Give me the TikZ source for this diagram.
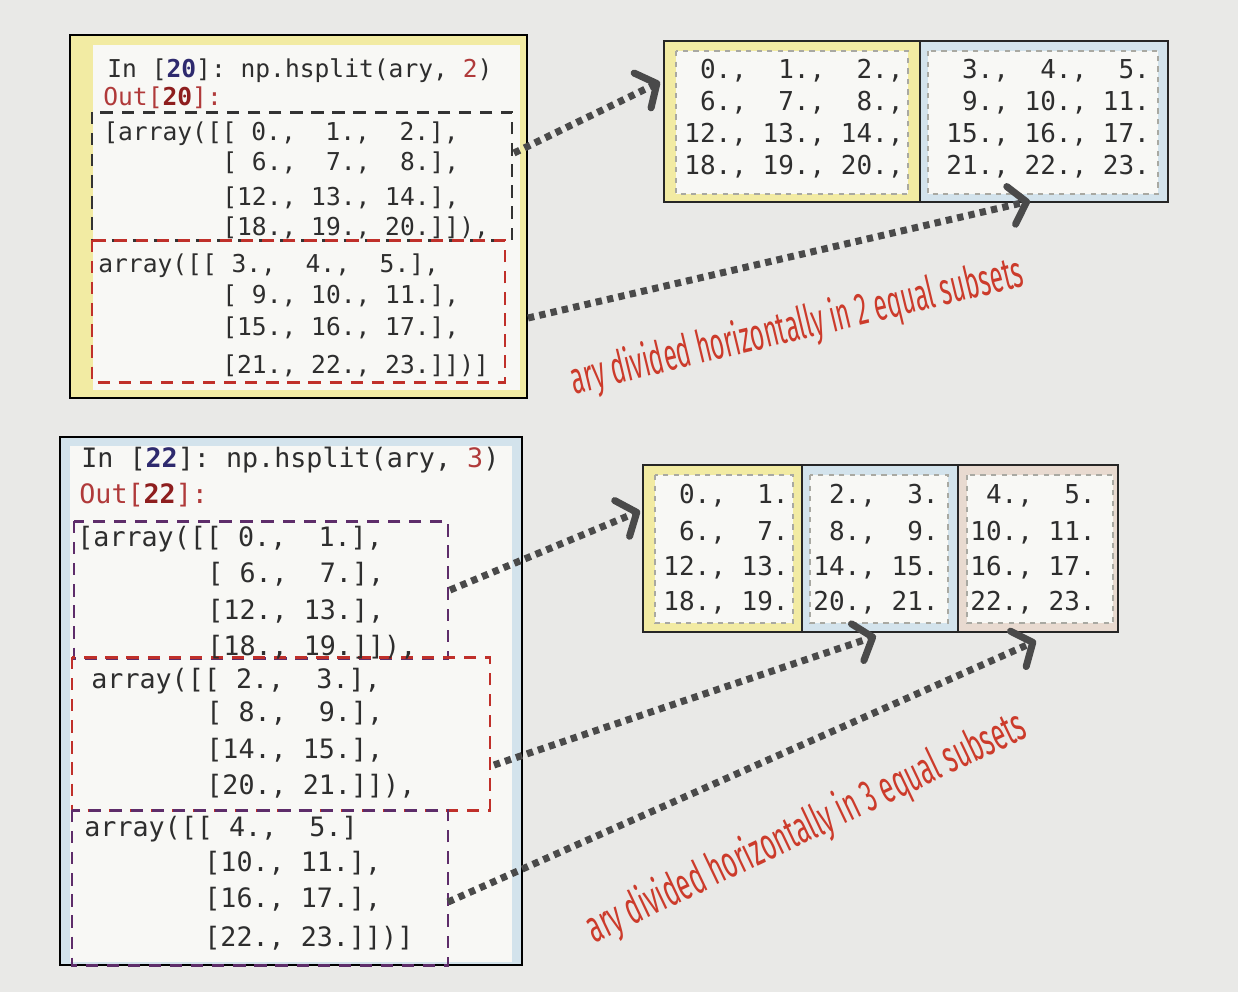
\documentclass[tikz,border=0pt]{standalone}
\usepackage{fontspec}
\usetikzlibrary{arrows.meta}
\newfontfamily\codefont{DejaVu Sans Mono}
\newfontfamily\labfont{Fira Sans}
\definecolor{paper}{HTML}{E9E9E7}
\definecolor{yellowp}{HTML}{F2EBA3}
\definecolor{bluep}{HTML}{D3E3EC}
\definecolor{pinkp}{HTML}{E8DAD0}
\definecolor{innerw}{HTML}{F8F8F5}
\definecolor{codegray}{HTML}{2E2E2E}
\definecolor{innavy}{HTML}{2E2A6E}
\definecolor{redbrown}{HTML}{B03A3A}
\definecolor{darkred}{HTML}{8E1E1E}
\definecolor{dashblack}{HTML}{333333}
\definecolor{dashred}{HTML}{C0302A}
\definecolor{dashpurple}{HTML}{5E2D6A}
\definecolor{arrowgray}{HTML}{4A4A4A}
\definecolor{labred}{HTML}{CC3B2B}
\definecolor{framegray}{HTML}{A9A9A2}
\begin{document}
\begin{tikzpicture}[x=0.02cm,y=-0.02cm,
  panel/.style={draw=black, line width=1.2pt},
  dbox/.style={line width=1.7pt, dash pattern=on 7pt off 5pt},
  arrbox/.style={draw=black!85, line width=1.5pt},
  frame/.style={draw=framegray, fill=innerw, line width=1.1pt, dash pattern=on 3pt off 3pt},
  codeA/.style={anchor=base west, inner sep=0pt, text=codegray, font=\codefont\fontsize{14}{16}\selectfont},
  codeB/.style={anchor=base west, inner sep=0pt, text=codegray, font=\codefont\fontsize{15.2}{17}\selectfont},
  cell/.style={anchor=base west, inner sep=0pt, text=codegray, font=\codefont\fontsize{14.8}{17}\selectfont},
  conn/.style={draw=arrowgray, line width=4pt, dash pattern=on 3.6pt off 3pt,
    -{Straight Barb[length=9pt,width=22pt,round]}},
  lab/.style={anchor=base, inner sep=0pt, text=labred, font=\labfont\fontsize{20}{22}\selectfont}
]
\useasboundingbox (0,0) rectangle (1238,992);
\fill[paper] (0,0) rectangle (1238,992);

% ---------- top panel ----------
\draw[panel, fill=yellowp] (70,35) rectangle (527,398);
\fill[innerw] (93,45) rectangle (520,390);
\draw[dbox, dashblack] (92,112) rectangle (512,240);
\draw[dbox, dashred] (92,240) rectangle (505,382);

\node[codeA] (t1) at (107,77) {In~[{\color{innavy}\bfseries 20}]:~np.hsplit(ary,~{\color{redbrown}2})};
\node[codeA, text=redbrown] (t2) at (103,105) {Out[{\color{darkred}\bfseries 20}]:};
\node[codeA] (t3) at (103,140) {[array([[~0.,~~1.,~~2.],};
\node[codeA] (t4) at (222,170) {[~6.,~~7.,~~8.],};
\node[codeA] (t5) at (222,205) {[12.,~13.,~14.],};
\node[codeA] (t6) at (222,235) {[18.,~19.,~20.]]),};
\node[codeA] (t7) at (98,272) {array([[~3.,~~4.,~~5.],};
\node[codeA] (t8) at (222,303) {[~9.,~10.,~11.],};
\node[codeA] (t9) at (222,335) {[15.,~16.,~17.],};
\node[codeA] (t10) at (222,373) {[21.,~22.,~23.]])]};

% ---------- bottom panel ----------
\draw[panel, fill=bluep] (60,437) rectangle (522,965);
\fill[innerw] (70,446) rectangle (512,962);
\draw[dbox, dashpurple] (74,521) rectangle (448,658);
\draw[dbox, dashred] (72,657) rectangle (490,810);
\draw[dbox, dashpurple] (72,810) rectangle (448,965);

\node[codeB] (b1) at (81,467) {In~[{\color{innavy}\bfseries 22}]:~np.hsplit(ary,~{\color{redbrown}3})};
\node[codeB, text=redbrown] (b2) at (79,503) {Out[{\color{darkred}\bfseries 22}]:};
\node[codeB] (b3) at (77,546) {[array([[~0.,~~1.],};
\node[codeB] (b4) at (207,582) {[~6.,~~7.],};
\node[codeB] (b5) at (207,619) {[12.,~13.],};
\node[codeB] (b6) at (207,655) {[18.,~19.]]),};
\node[codeB] (b7) at (91,688) {array([[~2.,~~3.],};
\node[codeB] (b8) at (206,721) {[~8.,~~9.],};
\node[codeB] (b9) at (206,758) {[14.,~15.],};
\node[codeB] (b10) at (206,794) {[20.,~21.]]),};
\node[codeB] (b11) at (84,836) {array([[~4.,~~5.]};
\node[codeB] (b12) at (204,871) {[10.,~11.],};
\node[codeB] (b13) at (204,907) {[16.,~17.],};
\node[codeB] (b14) at (204,946) {[22.,~23.]])]};

% ---------- top result arrays ----------
\fill[yellowp] (664,41) rectangle (920,202);
\fill[bluep] (920,41) rectangle (1168,202);
\draw[frame] (676,51) rectangle (908,194);
\draw[frame] (928,51) rectangle (1158,194);
\draw[arrbox] (664,41) rectangle (1168,202);
\draw[arrbox] (920,41) -- (920,202);

\node[cell] (l1) at (684,78) {~0.,~~1.,~~2.,};
\node[cell] (l2) at (684,110) {~6.,~~7.,~~8.,};
\node[cell] (l3) at (684,142) {12.,~13.,~14.,};
\node[cell] (l4) at (684,174) {18.,~19.,~20.,};
\node[cell] (r1) at (946,78) {~3.,~~4.,~~5.};
\node[cell] (r2) at (946,110) {~9.,~10.,~11.};
\node[cell] (r3) at (946,142) {15.,~16.,~17.};
\node[cell] (r4) at (946,174) {21.,~22.,~23.};

% ---------- bottom result arrays ----------
\fill[yellowp] (643,465) rectangle (802,632);
\fill[bluep] (802,465) rectangle (958,632);
\fill[pinkp] (958,465) rectangle (1118,632);
\draw[frame] (655,475) rectangle (793,623);
\draw[frame] (810,475) rectangle (948,623);
\draw[frame] (967,475) rectangle (1113,623);
\draw[arrbox] (643,465) rectangle (1118,632);
\draw[arrbox] (802,465) -- (802,632);
\draw[arrbox] (958,465) -- (958,632);

\node[cell] (p1) at (663,503) {~0.,~~1.};
\node[cell] (p2) at (663,540) {~6.,~~7.};
\node[cell] (p3) at (663,575) {12.,~13.};
\node[cell] (p4) at (663,610) {18.,~19.};
\node[cell] (q1) at (813,503) {~2.,~~3.};
\node[cell] (q2) at (813,540) {~8.,~~9.};
\node[cell] (q3) at (813,575) {14.,~15.};
\node[cell] (q4) at (813,610) {20.,~21.};
\node[cell] (s1) at (970,503) {~4.,~~5.};
\node[cell] (s2) at (970,540) {10.,~11.};
\node[cell] (s3) at (970,575) {16.,~17.};
\node[cell] (s4) at (970,610) {22.,~23.};

% ---------- connectors ----------
\coordinate (a1s) at (514,153);
\coordinate (a1e) at (660,82);
\coordinate (a2s) at (528,318);
\coordinate (a2e) at (1030,201);
\coordinate (c1s) at (450,590);
\coordinate (c1e) at (640,511);
\coordinate (c2s) at (494,765);
\coordinate (c2e) at (876,636);
\coordinate (c3s) at (448,902);
\coordinate (c3e) at (1036,641);
\draw[conn] (a1s) -- (a1e);
\draw[conn] (a2s) -- (a2e);
\draw[conn] (c1s) -- (c1e);
\draw[conn] (c2s) -- (c2e);
\draw[conn] (c3s) -- (c3e);

% ---------- labels ----------
\node[lab, rotate=13.5] (lab1) at (800,340) {\resizebox{264pt}{20pt}{ary divided horizontally in 2 equal subsets}};
\node[lab, rotate=25.5] (lab2) at (812,840) {\resizebox{274pt}{20pt}{ary divided horizontally in 3 equal subsets}};
\end{tikzpicture}
\end{document}
